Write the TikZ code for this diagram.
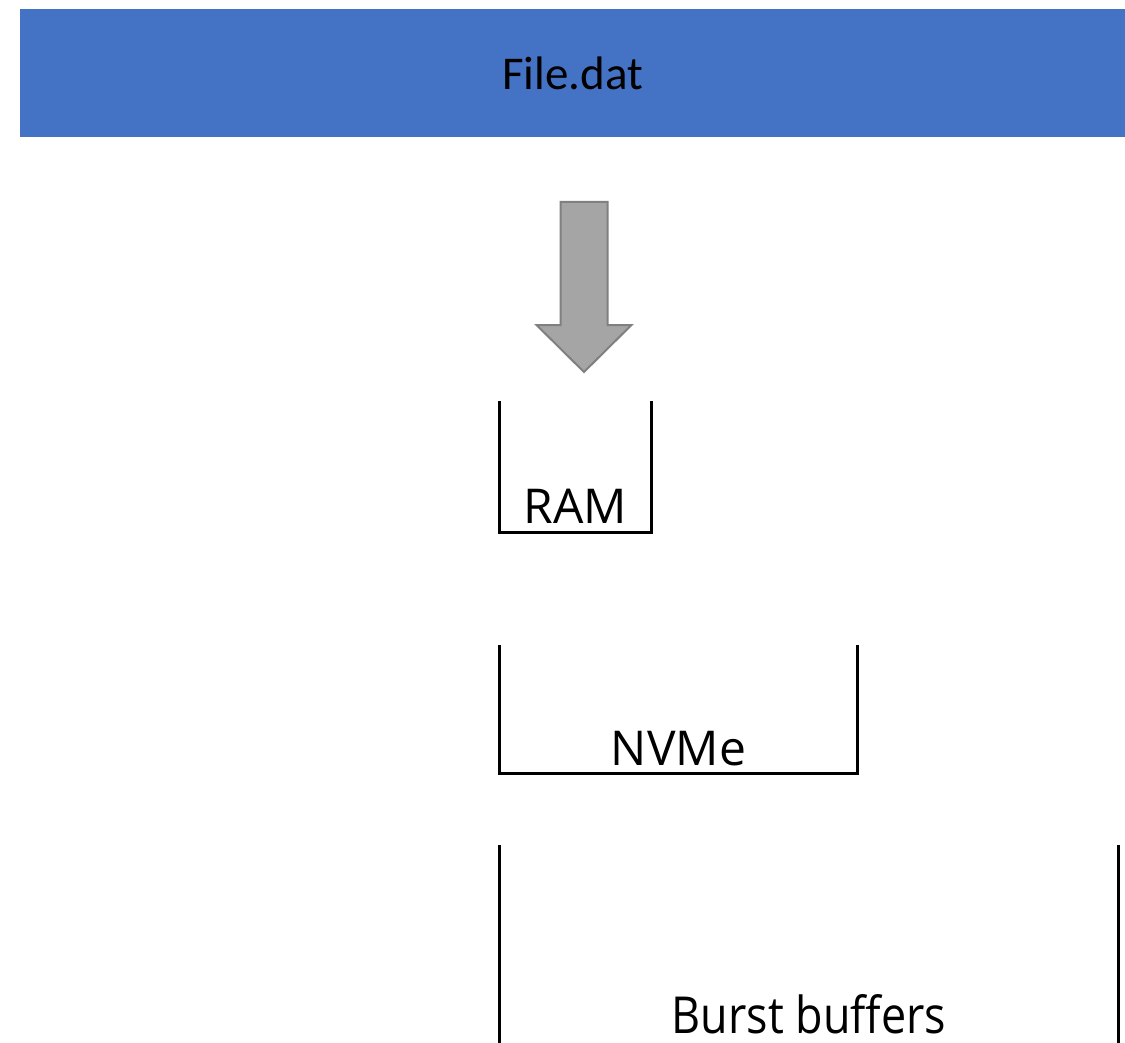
\documentclass[tikz,border=0pt]{standalone}
\usepackage{fontspec}
\setmainfont{Open Sans}
\newfontfamily\barfont{Carlito}
\newfontfamily\narrowfont[FakeStretch=0.88]{Open Sans}
\usetikzlibrary{positioning,calc}
\definecolor{filebg}{RGB}{68,114,196}
\definecolor{flowfill}{RGB}{165,165,165}
\definecolor{flowline}{RGB}{128,128,128}

\begin{document}
\begin{tikzpicture}[
   x=1pt,y=-1pt,
   filebar/.style={fill=filebg,inner sep=0pt,minimum width=1105pt,minimum height=128pt,
                   font=\barfont\fontsize{47}{50}\selectfont},
   store/.style={inner sep=0pt},
   bucket/.style={line width=3pt,black,line join=miter},
   lbl/.style={anchor=base,inner sep=0pt,font=\fontsize{48}{52}\selectfont},
   flow/.style={fill=flowfill,draw=flowline,line width=2pt,line join=miter}]
  \useasboundingbox (0,0) rectangle (1125,1043);

  \node[filebar] (file) at (572.5,73) {File.dat};

  % buckets
  \node[store,minimum width=151pt,minimum height=131pt] (ram)   at (575.5,466.5) {};
  \node[store,minimum width=357pt,minimum height=128pt] (nvme)  at (678.5,709) {};
  \node[store,minimum width=618pt,minimum height=198pt] (burst) at (809,944) {};

  \draw[bucket] (ram.north west) |- (ram.south east) -- (ram.north east);
  \draw[bucket] (nvme.north west) |- (nvme.south east) -- (nvme.north east);
  \draw[bucket] (burst.north west) -- (burst.south west);
  \draw[bucket] (burst.north east) -- (burst.south east);

  \node[lbl,yshift=9pt] (ramlbl) at (ram.south) {RAM};
  \node[lbl,yshift=8pt] (nvmelbl) at (nvme.south) {NVMe};
  \node[lbl,yshift=10pt,font=\narrowfont\fontsize{51}{55}\selectfont] (burstlbl) at (burst.south) {Burst buffers};

  % block arrow
  \coordinate (tip) at (584,372);
  \draw[flow] (tip) -- ++(-47.5,-47) -- ++(24,0) -- ++(0,-123) -- ++(47,0)
              -- ++(0,123) -- ++(24,0) -- cycle;
\end{tikzpicture}
\end{document}
